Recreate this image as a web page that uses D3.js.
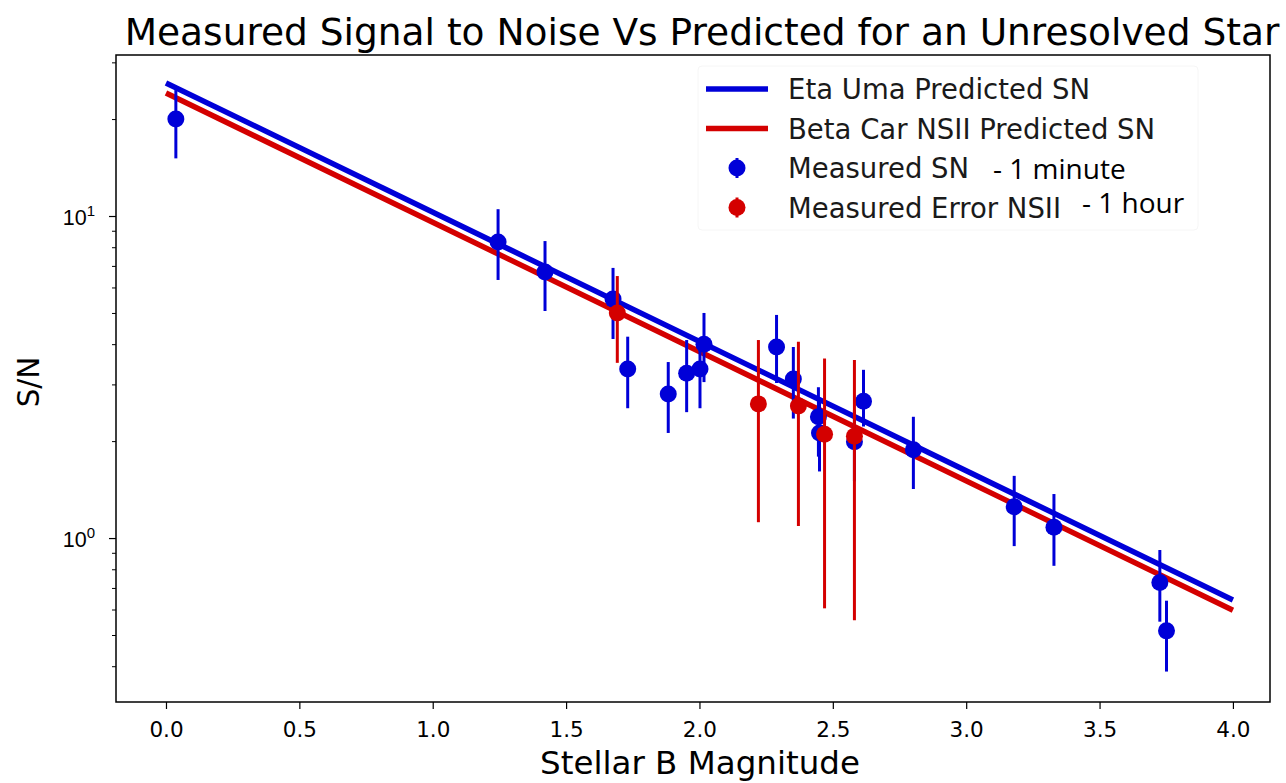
<!DOCTYPE html>
<html>
<head>
<meta charset="utf-8">
<script src="https://cdn.jsdelivr.net/npm/d3@7"></script>
<style>
  html, body { margin: 0; padding: 0; background: #fff; }
  svg { display: block; font-family: "DejaVu Sans", sans-serif; }
</style>
</head>
<body>
<div id="container"></div>
<script>
"use strict";

// predicted lines (endpoints, straight on a log axis)
const lineMag = [0, 4];
const etaUmaPred = [25.9, 0.642];
const betaCarPred = [24.1, 0.597];

// measured SN - 1 minute (blue)
const snMag = [0.037, 1.245, 1.421, 1.676, 1.731, 1.883, 1.952, 2.002, 2.017, 2.289, 2.352, 2.446, 2.45, 2.581, 2.615, 2.802, 3.180, 3.329, 3.726, 3.751];
const snVal = [20.0, 8.30, 6.70, 5.52, 3.35, 2.80, 3.25, 3.35, 4.00, 3.92, 3.12, 2.38, 2.12, 1.99, 2.66, 1.88, 1.25, 1.08, 0.728, 0.515];
const snLo  = [15.1, 6.33, 5.07, 4.15, 2.53, 2.12, 2.46, 2.53, 3.05, 3.03, 2.35, 1.79, 1.61, 1.50, 2.22, 1.42, 0.944, 0.82, 0.55, 0.385];
const snHi  = [24.6, 10.5, 8.36, 6.90, 4.22, 3.52, 4.12, 4.03, 5.00, 4.93, 3.92, 2.94, 2.66, 2.50, 3.33, 2.38, 1.56, 1.37, 0.918, 0.639];

// measured error NSII - 1 hour (red)
const nsiiMag = [1.692, 2.221, 2.371, 2.469, 2.581];
const nsiiVal = [5.00, 2.61, 2.57, 2.10, 2.07];
const nsiiLo  = [3.50, 1.12, 1.09, 0.605, 0.556];
const nsiiHi  = [6.51, 4.12, 4.07, 3.61, 3.57];

const xTicks = [0, 0.5, 1, 1.5, 2, 2.5, 3, 3.5, 4];
const yMajor = [1, 10];
const yMinor = [0.4, 0.5, 0.6, 0.7, 0.8, 0.9, 2, 3, 4, 5, 6, 7, 8, 9, 20, 30];

const legendItems = [
  { label: "Eta Uma Predicted SN", kind: "line", color: "blue", note: "" },
  { label: "Beta Car NSII Predicted SN", kind: "line", color: "red", note: "" },
  { label: "Measured SN", kind: "dot", color: "blue", note: "- 1 minute" },
  { label: "Measured Error NSII", kind: "dot", color: "red", note: "- 1 hour" }
];

const colors = { blue: "#0000d8", red: "#d40000" };

const W = 1286, H = 783;
const plot = { left: 116, right: 1270, top: 55, bottom: 702 };

const svg = d3.select("#container").append("svg")
  .attr("width", W).attr("height", H);

const x = d3.scaleLinear().domain([-0.1874, 4.139]).range([plot.left, plot.right]);
const y = d3.scaleLog().domain([0.3097, 31.62]).range([plot.bottom, plot.top]);

// title
svg.append("text")
  .attr("x", 702).attr("y", 45)
  .attr("text-anchor", "middle")
  .style("font-size", "37.5px")
  .text("Measured Signal to Noise Vs Predicted for an Unresolved Star");

const g = svg.append("g");

// x axis
const xAxis = svg.append("g")
  .attr("transform", `translate(0,${plot.bottom})`)
  .call(d3.axisBottom(x).tickValues(xTicks).tickFormat(d3.format(".1f")).tickSizeOuter(0).tickSize(7));
xAxis.select(".domain").remove();
xAxis.selectAll("text")
  .attr("y", 35).attr("dy", null)
  .style("font-size", "21.5px").attr("fill", "#000").style("font-family", "DejaVu Sans");
xAxis.selectAll("line").attr("stroke", "#000").attr("stroke-width", 1.2);

// y axis
const yAxis = svg.append("g")
  .attr("transform", `translate(${plot.left},0)`)
  .call(d3.axisLeft(y).tickValues(yMajor).tickFormat("").tickSizeOuter(0).tickSize(7));
yAxis.select(".domain").remove();
yAxis.selectAll("line").attr("stroke", "#000").attr("stroke-width", 1.2);
yAxis.selectAll(".tick").each(function(d) {
  const t = d3.select(this).append("text")
    .attr("x", -21).attr("y", 8)
    .attr("text-anchor", "end").attr("fill", "#000")
    .style("font-size", "21.5px");
  t.append("tspan").text("10");
  t.append("tspan").attr("dy", "-9").style("font-size", "15px").text(Math.round(Math.log10(d)));
});
const yMinorAxis = svg.append("g")
  .attr("transform", `translate(${plot.left},0)`)
  .call(d3.axisLeft(y).tickValues(yMinor).tickFormat("").tickSizeOuter(0).tickSize(4));
yMinorAxis.select(".domain").remove();
yMinorAxis.selectAll("line").attr("stroke", "#000").attr("stroke-width", 1);

// y label
svg.append("text")
  .attr("transform", `translate(39,${382}) rotate(-90)`)
  .attr("text-anchor", "middle")
  .style("font-size", "29.5px")
  .text("S/N");

// x label
svg.append("text")
  .attr("x", 700).attr("y", 774)
  .attr("text-anchor", "middle")
  .style("font-size", "32.5px")
  .text("Stellar B Magnitude");

// clip
svg.append("clipPath").attr("id", "clip").append("rect")
  .attr("x", plot.left).attr("y", plot.top)
  .attr("width", plot.right - plot.left).attr("height", plot.bottom - plot.top);
g.attr("clip-path", "url(#clip)");

// predicted lines
const line = d3.line().x(d => x(d[0])).y(d => y(d[1]));
[[etaUmaPred, colors.blue], [betaCarPred, colors.red]].forEach(([vals, c]) => {
  g.append("path")
    .datum(lineMag.map((m, i) => [m, vals[i]]))
    .attr("d", line)
    .attr("fill", "none").attr("stroke", c).attr("stroke-width", 5.5);
});

// error bars + points
const drawErr = (mags, vals, lo, hi, c) => {
  const data = mags.map((m, i) => ({ m: m, v: vals[i], lo: lo[i], hi: hi[i] }));
  g.selectAll(null).data(data).enter().append("line")
    .attr("x1", d => x(d.m)).attr("x2", d => x(d.m))
    .attr("y1", d => y(d.lo)).attr("y2", d => y(d.hi))
    .attr("stroke", c).attr("stroke-width", 3);
  g.selectAll(null).data(data).enter().append("circle")
    .attr("cx", d => x(d.m)).attr("cy", d => y(d.v))
    .attr("r", 8.5).attr("fill", c);
};
drawErr(snMag, snVal, snLo, snHi, colors.blue);
drawErr(nsiiMag, nsiiVal, nsiiLo, nsiiHi, colors.red);

// frame
svg.append("rect")
  .attr("x", plot.left).attr("y", plot.top)
  .attr("width", plot.right - plot.left).attr("height", plot.bottom - plot.top)
  .attr("fill", "none").attr("stroke", "#000").attr("stroke-width", 1.5);

// legend
const leg = svg.append("g").attr("transform", "translate(698,66)");
leg.append("rect")
  .attr("x", 0).attr("y", 0).attr("width", 500).attr("height", 164)
  .attr("rx", 4).attr("fill", "#fff").attr("stroke", "#f6f6f6");
legendItems.forEach((it, i) => {
  const row = leg.append("g").attr("transform", `translate(0,${23 + i * 39.5})`);
  const c = colors[it.color];
  if (it.kind === "line") {
    row.append("line").attr("x1", 8).attr("x2", 70).attr("y1", 0).attr("y2", 0)
      .attr("stroke", c).attr("stroke-width", 5.5);
  } else {
    row.append("line").attr("x1", 39).attr("x2", 39).attr("y1", -10).attr("y2", 10)
      .attr("stroke", c).attr("stroke-width", 3);
    row.append("circle").attr("cx", 39).attr("cy", 0).attr("r", 8.5).attr("fill", c);
  }
  row.append("text").attr("x", 90).attr("y", 10)
    .style("font-size", "27.5px").attr("fill", "#1a1a1a")
    .text(it.label);
});
// hand-added notes
leg.append("text").attr("x", 295).attr("y", 113)
  .style("font-family", "'Open Sans', sans-serif").style("font-size", "28px")
  .text(legendItems[2].note);
leg.append("text").attr("x", 384).attr("y", 147)
  .style("font-family", "'Open Sans', sans-serif").style("font-size", "28px")
  .text(legendItems[3].note);
</script>
</body>
</html>
